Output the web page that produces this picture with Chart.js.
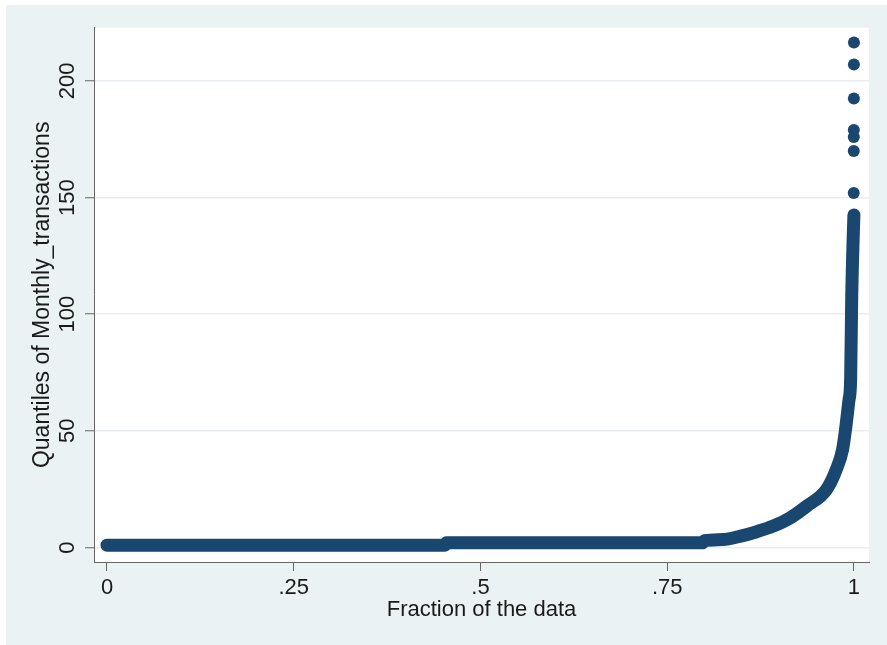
<!DOCTYPE html>
<html>
<head>
<meta charset="utf-8">
<script src="https://cdn.jsdelivr.net/npm/chart.js@4.4.1/dist/chart.umd.min.js"></script>
<style>
  html, body { margin: 0; padding: 0; background: #ffffff; }
  #wrap { position: absolute; left: 6px; top: 5px; width: 881px; height: 640px; background: #eaf2f3; }
  canvas { display: block; }
</style>
</head>
<body>
<div id="wrap"><canvas id="c" width="881" height="640"></canvas></div>
<script>
// ---- data ----
const bandFractions = [0, 0.4525, 0.4545, 0.797, 0.800, 0.825, 0.847, 0.870, 0.892, 0.914, 0.937, 0.963, 0.976, 0.9846, 0.9886, 0.9933, 0.9955, 0.9969, 0.9991, 0.9999];
const bandQuantiles = [1, 1, 2, 2, 2.9, 3.4, 4.8, 6.8, 9.2, 12.6, 17.8, 24.8, 33.2, 41.8, 50.4, 63.2, 71.8, 106, 134.7, 142.5];
const outlierFractions = [0.99965, 0.9997, 0.99975, 0.9998, 0.99985, 0.9999, 0.99995];
const outlierQuantiles = [152, 170, 176, 179, 192.5, 207, 216.5];
const xTickValues = [0, 0.25, 0.5, 0.75, 1];
const xTickLabels = ['0', '.25', '.5', '.75', '1'];
const yTickValues = [0, 50, 100, 150, 200];
const yTickLabels = ['0', '50', '100', '150', '200'];
const xTitle = 'Fraction of the data';
const yTitle = 'Quantiles of Monthly_transactions';

const NAVY = '#1a476f';
const AXIS = '#666666';
const GRID = '#e6eef0';

const bandData = bandFractions.map((f, i) => ({ x: f, y: bandQuantiles[i] }));
const outlierData = outlierFractions.map((f, i) => ({ x: f, y: outlierQuantiles[i] }));

Chart.defaults.font.family = "'Liberation Sans', Arial, sans-serif";
Chart.defaults.font.size = 22;
Chart.defaults.color = '#1a1a1a';

const plotBg = {
  id: 'plotBg',
  beforeDraw(chart) {
    const { ctx, chartArea: a } = chart;
    ctx.save();
    ctx.fillStyle = '#ffffff';
    ctx.fillRect(a.left, a.top, a.right - a.left, a.bottom - a.top);
    ctx.restore();
  }
};

new Chart(document.getElementById('c'), {
  type: 'scatter',
  data: {
    datasets: [
      {
        data: bandData,
        showLine: true,
        borderColor: NAVY,
        borderWidth: 13,
        borderCapStyle: 'round',
        borderJoinStyle: 'round',
        cubicInterpolationMode: 'monotone',
        pointRadius: 0,
        pointHoverRadius: 0,
        fill: false
      },
      {
        data: outlierData,
        showLine: false,
        backgroundColor: NAVY,
        borderWidth: 0,
        pointRadius: 6,
        pointHoverRadius: 6
      }
    ]
  },
  options: {
    responsive: false,
    animation: false,
    events: [],
    layout: { padding: { left: 0, top: 22.7, right: 18, bottom: 0 } },
    plugins: { legend: { display: false }, tooltip: { enabled: false } },
    scales: {
      x: {
        type: 'linear',
        min: -0.0174,
        max: 1.0201,
        afterBuildTicks: s => { s.ticks = xTickValues.map(v => ({ value: v })); },
        afterFit: s => { s.height = 83; },
        ticks: {
          padding: 4,
          maxRotation: 0,
          minRotation: 0,
          callback: v => { const i = xTickValues.indexOf(v); return i >= 0 ? xTickLabels[i] : ''; }
        },
        grid: { display: true, drawOnChartArea: false, drawTicks: true, tickLength: 9, tickColor: AXIS, tickWidth: 1 },
        border: { display: true, color: AXIS, width: 1 },
        title: { display: true, text: xTitle, padding: { top: 0, bottom: 21.8 } }
      },
      y: {
        type: 'linear',
        min: -6.2,
        max: 222.8,
        afterBuildTicks: s => { s.ticks = yTickValues.map(v => ({ value: v })); },
        afterFit: s => { s.width = 88; },
        ticks: {
          minRotation: 90,
          maxRotation: 90,
          crossAlign: 'center',
          padding: -1,
          callback: v => { const i = yTickValues.indexOf(v); return i >= 0 ? yTickLabels[i] : ''; }
        },
        grid: { display: true, drawOnChartArea: true, color: GRID, lineWidth: 1.5, drawTicks: true, tickLength: 9, tickColor: AXIS, tickWidth: 1 },
        border: { display: true, color: AXIS, width: 1 },
        title: { display: true, text: yTitle, font: { size: 23 }, padding: { top: 23.3, bottom: 0 } }
      }
    }
  },
  plugins: [plotBg]
});
</script>
</body>
</html>
